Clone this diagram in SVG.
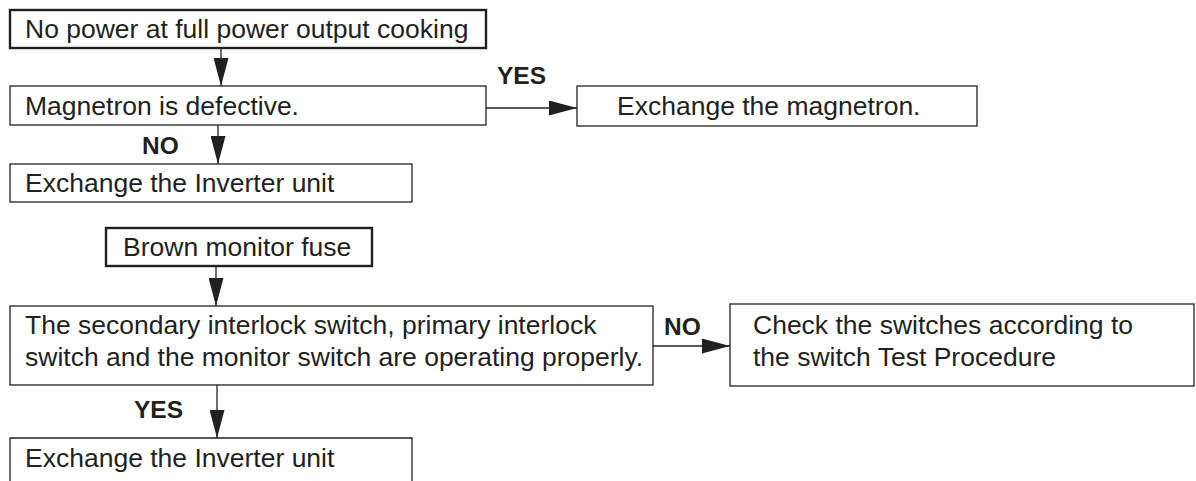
<svg xmlns="http://www.w3.org/2000/svg" width="1196" height="481" viewBox="0 0 1196 481">
<style>
.box{fill:#fff;stroke:#231f20;stroke-width:1.3}
.thick{stroke-width:2.4}
.t{font-family:"Liberation Sans",Arial,sans-serif;font-size:26.5px;fill:#231f20}
.lbl{font-family:"Liberation Sans",Arial,sans-serif;font-size:24.5px;font-weight:bold;fill:#231f20}
.c{stroke:#231f20;stroke-width:1.3;fill:none}
</style>
<defs>
<marker id="ah" markerWidth="28" markerHeight="15" viewBox="0 0 28 15" refX="28" refY="7.5" markerUnits="userSpaceOnUse" orient="auto">
<path d="M0,0 L28,7.5 L0,15 Z" fill="#231f20"/>
</marker>
</defs>
<rect width="1196" height="481" fill="#fff"/>
<g id="connectors">
<line class="c" x1="221" y1="48" x2="221" y2="86" marker-end="url(#ah)"/>
<line class="c" x1="486" y1="108" x2="577" y2="108" marker-end="url(#ah)"/>
<line class="c" x1="218" y1="125" x2="218" y2="164" marker-end="url(#ah)"/>
<line class="c" x1="216" y1="266" x2="216" y2="306" marker-end="url(#ah)"/>
<line class="c" x1="653" y1="346" x2="730" y2="346" marker-end="url(#ah)"/>
<line class="c" x1="217" y1="385" x2="217" y2="438" marker-end="url(#ah)"/>
<text class="lbl" x="497" y="84">YES</text>
<text class="lbl" x="142" y="154">NO</text>
<text class="lbl" x="664" y="335">NO</text>
<text class="lbl" x="134" y="418">YES</text>
</g>
<g id="n1"><rect class="box thick" x="10" y="10" width="476" height="38"/><text class="t" x="25" y="38">No power at full power output cooking</text></g>
<g id="n2"><rect class="box" x="10" y="86" width="476" height="39"/><text class="t" x="25" y="115">Magnetron is defective.</text></g>
<g id="n3"><rect class="box" x="577" y="86" width="400" height="40"/><text class="t" x="617" y="115">Exchange the magnetron.</text></g>
<g id="n4"><rect class="box" x="10" y="164" width="402" height="38"/><text class="t" x="25" y="192">Exchange the Inverter unit</text></g>
<g id="n5"><rect class="box thick" x="106" y="228" width="266" height="38"/><text class="t" x="123" y="256">Brown monitor fuse</text></g>
<g id="n6"><rect class="box" x="10" y="306" width="643" height="79"/><text class="t" x="25" y="334">The secondary interlock switch, primary interlock</text><text class="t" x="25" y="366">switch and the monitor switch are operating properly.</text></g>
<g id="n7"><rect class="box" x="730" y="304" width="464" height="82"/><text class="t" x="753" y="334">Check the switches according to</text><text class="t" x="753" y="366">the switch Test Procedure</text></g>
<g id="n8"><path class="box" d="M10,490 L10,438 L412,438 L412,490"/><text class="t" x="25" y="467">Exchange the Inverter unit</text></g>
</svg>
